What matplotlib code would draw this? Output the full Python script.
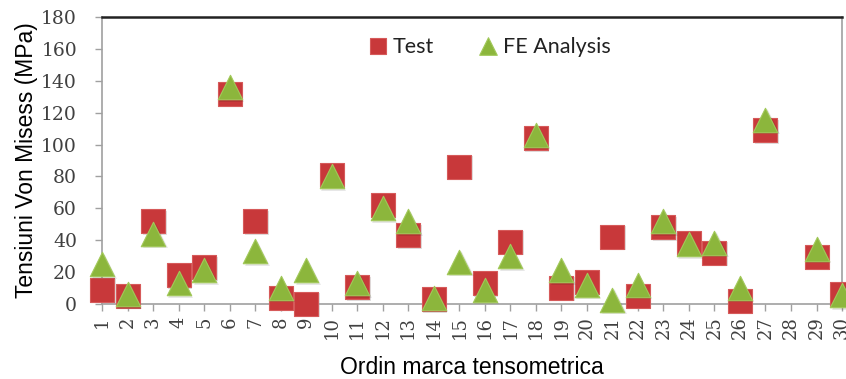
from matplotlib import pyplot as plt
import numpy as np

# values
marks = np.arange(1, 31)
test = [9, 5, 52, 18, 23, 132, 52, 4, 0, 81,
        10.5, 62, 43, 3, 86, 13, 39, 104, 10, 14,
        42, 5, 48, 38, 32, 2, 109, np.nan, 29.5, 6.5]
fea = [25, 6, 44, 13, 21, 136, 33, 10, 21, 80,
       13, 60, 52, 4, 26.5, 9, 30, 106, 21, 12,
       2.5, 12, 52, 37.5, 38.5, 10, 115.5, np.nan, 34.5, 5.5]
yticks = [0, 20, 40, 60, 80, 100, 120, 140, 160, 180]

fig = plt.figure(figsize=(8.46, 3.79), dpi=100)
ax = fig.add_axes([0.1206, 0.198, 0.8747, 0.757])

# soft shadow under markers
ax.scatter(marks + 0.06, np.array(test) - 0.9, s=290, marker='s', color='#000000',
           alpha=0.12, linewidths=0, clip_on=False, zorder=2)
ax.scatter(marks, test, s=275, marker='s', color='#c8383a', edgecolors='#d65a5a',
           linewidths=0.8, clip_on=False, zorder=3, label='Test')
ax.scatter(marks + 0.06, np.array(fea) - 0.9, s=320, marker='^', color='#000000',
           alpha=0.10, linewidths=0, clip_on=False, zorder=4)
ax.scatter(marks, fea, s=310, marker='^', color='#8cb63c', edgecolors='#a2c95a',
           linewidths=0.8, clip_on=False, zorder=5, label='FE Analysis')

ax.set_xlim(1, 30)
ax.set_ylim(0, 180)
ax.set_xticks(marks)
ax.set_xticklabels([str(m) for m in marks], rotation=90, family='DejaVu Serif',
                   fontsize=13, color='#404040')
ax.set_yticks(yticks)
ax.set_yticklabels([str(v) for v in yticks], family='DejaVu Serif',
                   fontsize=13.5, color='#404040')

for s in ['left', 'bottom', 'right']:
    ax.spines[s].set_color('#a0a0a0')
    ax.spines[s].set_linewidth(1.2)
ax.spines['top'].set_color('#222222')
ax.spines['top'].set_linewidth(1.8)
ax.tick_params(axis='both', color='#a0a0a0', length=5, width=1)
ax.tick_params(axis='y', pad=13)
ax.tick_params(axis='x', pad=4)

ax.set_ylabel('Tensiuni Von Misess (MPa)', family='Liberation Sans', fontsize=16.5,
              color='#000000', labelpad=2)
ax.set_xlabel('Ordin marca tensometrica', family='Liberation Sans', fontsize=16.5,
              color='#000000', labelpad=12)

leg = ax.legend(loc='upper left', bbox_to_anchor=(0.358, 0.93), ncol=2, frameon=False,
                prop={'family': 'Lato', 'size': 15.5}, handlelength=1.0,
                handletextpad=0.2, columnspacing=2.0, borderpad=0, borderaxespad=0,
                markerscale=0.72, scatteryoffsets=[0.5])
for t in leg.get_texts():
    t.set_color('#222222')

fig.savefig('out.png', dpi=100)
